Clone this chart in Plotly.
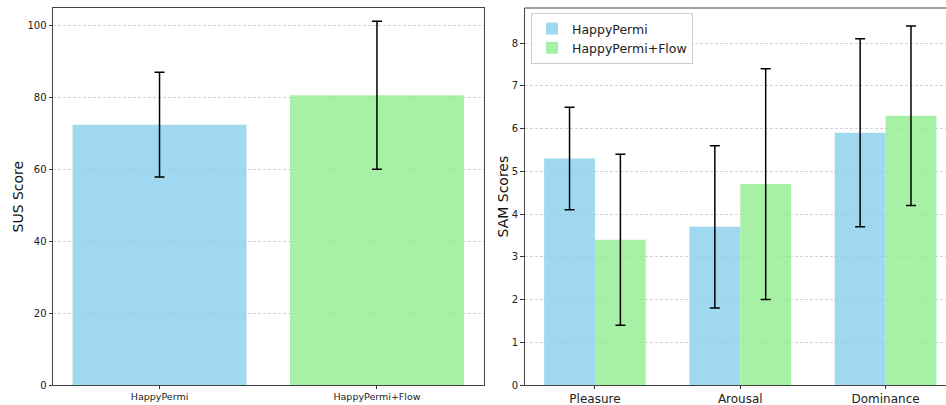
import plotly.graph_objects as go

# SUS scores per condition
sus_conditions = ["HappyPermi", "HappyPermi+Flow"]
sus_means = [72.5, 80.7]
sus_sds = [14.6, 20.6]

# SAM dimensions per condition
sam_dimensions = ["Pleasure", "Arousal", "Dominance"]
sam_happy_means = [5.3, 3.7, 5.9]
sam_happy_sds = [1.2, 1.9, 2.2]
sam_flow_means = [3.4, 4.7, 6.3]
sam_flow_sds = [2.0, 2.7, 2.1]

BLUE = "rgba(135,206,235,0.8)"
GREEN = "rgba(144,238,144,0.8)"
FONT = "DejaVu Sans"
W, H = 946, 405


def px_x(v):
    return v / W


def px_y(v):
    return 1 - v / H


err_style = dict(type="data", color="black", thickness=1.5, width=5, visible=True)

fig = go.Figure()

fig.add_trace(go.Bar(
    x=sus_conditions, y=sus_means, width=0.8,
    marker=dict(color=[BLUE, GREEN], line=dict(width=0)),
    error_y=dict(array=sus_sds, **err_style),
    xaxis="x", yaxis="y", showlegend=False,
))

fig.add_trace(go.Bar(
    x=sam_dimensions, y=sam_happy_means, width=0.35, offset=-0.35,
    marker=dict(color=BLUE, line=dict(width=0)),
    error_y=dict(array=sam_happy_sds, **err_style),
    xaxis="x2", yaxis="y2", name="HappyPermi",
))
fig.add_trace(go.Bar(
    x=sam_dimensions, y=sam_flow_means, width=0.35, offset=0,
    marker=dict(color=GREEN, line=dict(width=0)),
    error_y=dict(array=sam_flow_sds, **err_style),
    xaxis="x2", yaxis="y2", name="HappyPermi+Flow",
))

y_dom = [px_y(385), px_y(8)]
common_y = dict(
    showgrid=True, gridcolor="rgba(200,200,200,0.8)", griddash="3px,2px", gridwidth=1,
    ticks="outside", ticklen=3.5, tickcolor="#333", tickwidth=1,
    showline=True, linecolor="#444", linewidth=1, zeroline=False, automargin=False,
    tickfont=dict(family=FONT, size=10, color="#222"),
)
common_x = dict(
    showgrid=False, ticks="outside", ticklen=3, tickcolor="#333", tickwidth=1,
    showline=True, linecolor="#444", linewidth=1, zeroline=False, automargin=False,
)

fig.update_layout(
    width=W, height=H,
    margin=dict(l=0, r=0, t=0, b=0, autoexpand=False),
    paper_bgcolor="white", plot_bgcolor="white",
    barmode="overlay",
    font=dict(family=FONT, color="#222"),
    xaxis=dict(domain=[px_x(53), px_x(483.5)], range=[-0.49, 1.49], anchor="y",
               mirror=True, tickfont=dict(family=FONT, size=9.5, color="#222"), **common_x),
    yaxis=dict(domain=y_dom, range=[0, 105], anchor="x", mirror=True,
               tickvals=[0, 20, 40, 60, 80, 100], **common_y),
    xaxis2=dict(domain=[px_x(524.5), 1.0], range=[-0.485, 2.416], anchor="y2",
                mirror=False, tickfont=dict(family=FONT, size=12, color="#222"), **common_x),
    yaxis2=dict(domain=y_dom, range=[0, 8.82], anchor="x2",
                tickvals=list(range(9)), **common_y),
    legend=dict(
        x=px_x(531), y=px_y(13), xanchor="left", yanchor="top",
        bgcolor="rgba(255,255,255,0.8)", bordercolor="#ccc", borderwidth=1,
        font=dict(family=FONT, size=12.5, color="#222"),
        tracegroupgap=0,
    ),
    showlegend=True,
)

# axis titles
for text, xc in [("SUS Score", 17), ("SAM Scores", 502)]:
    fig.add_annotation(
        text=text, xref="paper", yref="paper", x=px_x(xc), y=px_y(196.5),
        xanchor="center", yanchor="middle", textangle=-90, showarrow=False,
        font=dict(family=FONT, size=14, color="#111"),
    )

# top border line of the right panel, running to the figure edge
fig.add_shape(type="line", xref="paper", yref="paper",
              x0=px_x(524.5), x1=1.0, y0=px_y(8), y1=px_y(8),
              line=dict(color="#444", width=1))

fig.write_html("out.html")
